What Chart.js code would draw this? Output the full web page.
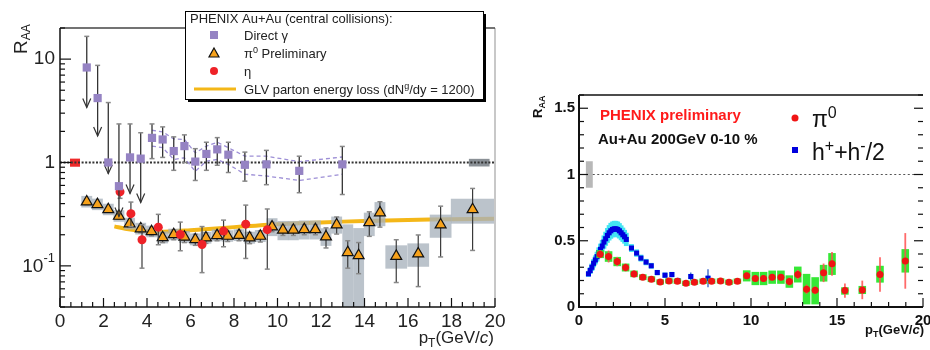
<!DOCTYPE html>
<html>
<head>
<meta charset="utf-8">
<script src="https://cdn.jsdelivr.net/npm/chart.js@4.4.1/dist/chart.umd.min.js"></script>
<style>
body { margin: 0; background: #fff; width: 930px; height: 350px; overflow: hidden; position: relative; }
#left { position: absolute; left: 0; top: 0; }
#right { position: absolute; left: 520px; top: 0; }
</style>
</head>
<body>
<canvas id="left" width="520" height="350"></canvas>
<canvas id="right" width="410" height="350"></canvas>
<script>
// ---- left panel: direct photons (upper limits marked with arrows)
const gammaPt    = [1.23, 1.73, 2.22, 2.71, 3.22, 3.71, 4.23, 4.72, 5.23, 5.72, 6.22, 6.73, 7.23, 7.74, 8.5, 9.49, 11.0, 12.98];
const gammaR     = [8.3, 4.2, 1.0, 0.59, 1.12, 1.09, 1.73, 1.67, 1.29, 1.44, 1.02, 1.21, 1.34, 1.19, 0.95, 0.96, 0.83, 0.96];
const gammaHi    = [16.6, 8.7, 3.8, 2.36, 2.36, 1.94, 2.36, 2.21, 1.77, 1.85, 1.36, 1.57, 1.74, 1.57, 1.26, 1.31, 1.15, 1.43];
const gammaLo    = [3.4, 1.8, 0.78, 0.3, 0.5, 0.41, 1.09, 1.12, 0.84, 1.0, 0.67, 0.84, 0.94, 0.80, 0.66, 0.61, 0.51, 0.49];
const gammaLimit = [1, 1, 1, 1, 1, 1, 0, 0, 0, 0, 0, 0, 0, 0, 0, 0, 0, 0];
// systematic band of the photons (dashed)
const bandPt = [4.23, 4.72, 5.23, 5.72, 6.22, 6.73, 7.23, 7.74, 8.5, 9.49, 11.0, 12.98];
const bandHi = [2.05, 1.98, 1.69, 1.67, 1.24, 1.44, 1.57, 1.39, 1.15, 1.15, 1.02, 1.13];
const bandLo = [1.44, 1.39, 1.07, 1.11, 0.82, 1.03, 1.07, 0.96, 0.77, 0.74, 0.67, 0.77];

// pi0 (shared pT bins)
const pi0Pt   = [1.23, 1.72, 2.22, 2.71, 3.2, 3.71, 4.21, 4.72, 5.23, 5.72, 6.22, 6.71, 7.22, 7.71, 8.23, 8.72, 9.21, 9.75, 10.25, 10.73, 11.23, 11.74, 12.23, 12.72, 13.23, 13.73, 14.22, 14.71, 15.46, 16.47, 17.5, 18.97];
const pi0BinW = [0.25, 0.25, 0.25, 0.25, 0.25, 0.25, 0.25, 0.25, 0.25, 0.25, 0.25, 0.25, 0.25, 0.25, 0.25, 0.25, 0.25, 0.25, 0.25, 0.25, 0.25, 0.25, 0.25, 0.25, 0.25, 0.25, 0.25, 0.25, 0.5, 0.5, 0.5, 1.0];
// left panel pi0 values
const pi0R     = [0.417, 0.393, 0.351, 0.303, 0.256, 0.229, 0.215, 0.188, 0.201, 0.19, 0.18, 0.187, 0.197, 0.194, 0.198, 0.187, 0.194, 0.239, 0.222, 0.222, 0.225, 0.225, 0.191, 0.25, 0.135, 0.126, 0.263, 0.327, 0.124, 0.131, 0.25, 0.351];
const pi0Stat  = [0.025, 0.022, 0.02, 0.02, 0.02, 0.02, 0.02, 0.02, 0.022, 0.022, 0.022, 0.022, 0.022, 0.022, 0.023, 0.023, 0.024, 0.025, 0.025, 0.025, 0.025, 0.025, 0.042, 0.047, 0.04, 0.042, 0.07, 0.09, 0.055, 0.068, 0.128, 0.21];
const pi0SysUp = [0.058, 0.054, 0.048, 0.042, 0.036, 0.032, 0.03, 0.027, 0.028, 0.027, 0.026, 0.027, 0.028, 0.027, 0.028, 0.027, 0.028, 0.05, 0.05, 0.05, 0.05, 0.05, 0.04, 0.05, 0.117, 0.106, 0.064, 0.087, 0.034, 0.034, 0.063, 0.095];
const pi0SysDn = [0.05, 0.047, 0.042, 0.036, 0.031, 0.028, 0.026, 0.023, 0.024, 0.023, 0.022, 0.023, 0.024, 0.023, 0.024, 0.023, 0.024, 0.045, 0.045, 0.045, 0.045, 0.045, 0.035, 0.045, 0.13, 0.12, 0.069, 0.085, 0.03, 0.033, 0.063, 0.095];

// eta
const etaPt = [2.76, 3.26, 3.77, 4.52, 5.53, 6.53, 7.52, 8.54, 9.53];
const etaR  = [0.52, 0.32, 0.179, 0.237, 0.201, 0.161, 0.217, 0.253, 0.224];
const etaHi = [0.6, 0.414, 0.25, 0.315, 0.265, 0.24, 0.277, 0.387, 0.355];
const etaLo = [0.45, 0.24, 0.095, 0.16, 0.14, 0.086, 0.153, 0.118, 0.093];

// GLV parton energy loss curve
const glvPt = [2.5, 3, 3.5, 4, 4.5, 5, 6, 7, 8, 9, 10, 12, 14, 16, 18, 20];
const glvR  = [0.241, 0.229, 0.221, 0.216, 0.214, 0.215, 0.221, 0.228, 0.237, 0.245, 0.252, 0.263, 0.272, 0.278, 0.282, 0.285];

// normalisation boxes at R = 1
const auNormPt = [0.46, 0.92], auNormR = [0.91, 1.09];
const ppNormPt = [18.8, 19.75], ppNormR = [0.915, 1.085];

// ---- right panel
const hPt   = [0.55, 0.65, 0.75, 0.85, 0.95, 1.05, 1.15, 1.25, 1.35, 1.45, 1.55, 1.65, 1.75, 1.85, 1.95, 2.05, 2.15, 2.25, 2.35, 2.45, 2.55, 2.65, 2.75, 3.05, 3.35, 3.6, 3.9, 4.2, 4.55, 5.0, 5.4, 5.75, 6.5, 7.5];
const hR    = [0.25, 0.275, 0.30, 0.33, 0.355, 0.38, 0.41, 0.435, 0.46, 0.49, 0.515, 0.54, 0.56, 0.575, 0.585, 0.59, 0.59, 0.585, 0.575, 0.56, 0.545, 0.53, 0.51, 0.445, 0.407, 0.369, 0.339, 0.311, 0.26, 0.24, 0.245, 0.2, 0.23, 0.217];
const hSys  = [0.022, 0.025, 0.028, 0.031, 0.034, 0.037, 0.04, 0.043, 0.046, 0.05, 0.053, 0.056, 0.058, 0.06, 0.06, 0.06, 0.06, 0.06, 0.058, 0.056, 0.054, 0.052, 0.05, 0.03, 0.028, 0.026, 0.024, 0.022, 0.02, 0.02, 0.02, 0.018, 0.02, 0.02];
const hStat = [0.005, 0.005, 0.005, 0.005, 0.005, 0.005, 0.005, 0.005, 0.005, 0.005, 0.005, 0.005, 0.005, 0.005, 0.005, 0.005, 0.005, 0.005, 0.005, 0.005, 0.005, 0.005, 0.006, 0.007, 0.008, 0.008, 0.009, 0.01, 0.012, 0.015, 0.02, 0.02, 0.03, 0.068];

const pi0R2     = [0.399, 0.381, 0.343, 0.298, 0.25, 0.225, 0.21, 0.189, 0.197, 0.195, 0.179, 0.187, 0.195, 0.195, 0.197, 0.187, 0.195, 0.235, 0.215, 0.215, 0.225, 0.225, 0.192, 0.245, 0.134, 0.126, 0.258, 0.326, 0.124, 0.129, 0.245, 0.348];
const pi0Stat2  = [0.03, 0.045, 0.035, 0.03, 0.025, 0.02, 0.018, 0.015, 0.015, 0.015, 0.015, 0.015, 0.016, 0.016, 0.017, 0.017, 0.018, 0.025, 0.025, 0.025, 0.025, 0.025, 0.03, 0.035, 0.035, 0.03, 0.07, 0.09, 0.054, 0.07, 0.13, 0.21];
const pi0SysUp2 = [0.03, 0.04, 0.035, 0.03, 0.025, 0.022, 0.022, 0.02, 0.02, 0.02, 0.02, 0.02, 0.02, 0.02, 0.02, 0.02, 0.02, 0.042, 0.05, 0.05, 0.05, 0.05, 0.047, 0.06, 0.116, 0.099, 0.06, 0.081, 0.025, 0.03, 0.066, 0.089];
const pi0SysDn2 = [0.03, 0.04, 0.035, 0.03, 0.025, 0.022, 0.022, 0.02, 0.02, 0.02, 0.02, 0.02, 0.02, 0.02, 0.02, 0.02, 0.02, 0.042, 0.05, 0.05, 0.05, 0.05, 0.047, 0.06, 0.114, 0.106, 0.066, 0.084, 0.031, 0.031, 0.061, 0.088];
const rightNormPt = [0.4, 0.8], rightNormR = [0.9, 1.1];

const FONT = "'Liberation Sans', Arial, Helvetica, sans-serif";
const pts = (xs, ys) => xs.map((x, i) => ({ x: x, y: ys[i] }));

function vline(ctx, x, y1, y2) {
    ctx.beginPath(); ctx.moveTo(x, y1); ctx.lineTo(x, y2); ctx.stroke();
}
function hline(ctx, x1, x2, y) {
    ctx.beginPath(); ctx.moveTo(x1, y); ctx.lineTo(x2, y); ctx.stroke();
}
function clipArea(chart) {
    const a = chart.chartArea;
    chart.ctx.save();
    chart.ctx.beginPath();
    chart.ctx.rect(a.left, a.top, a.right - a.left, a.bottom - a.top);
    chart.ctx.clip();
}
// draws a list of text pieces [text, font, dy] one after another, returns width
function rich(ctx, parts, x, y, align) {
    let w = 0;
    parts.forEach(p => { ctx.font = p[1]; w += ctx.measureText(p[0]).width; });
    let cx = align === 'right' ? x - w : x;
    ctx.textAlign = 'left';
    parts.forEach(p => {
        ctx.font = p[1];
        ctx.fillText(p[0], cx, y + (p[2] || 0));
        cx += ctx.measureText(p[0]).width;
    });
    return w;
}

// ---------------- left chart ----------------
const leftPlugin = {
    id: 'leftDecor',
    beforeDatasetsDraw(chart) {
        const ctx = chart.ctx, xs = chart.scales.x, ys = chart.scales.y;
        clipArea(chart);
        ctx.fillStyle = '#ee2a2a';
        ctx.fillRect(xs.getPixelForValue(auNormPt[0]), ys.getPixelForValue(auNormR[1]),
            xs.getPixelForValue(auNormPt[1]) - xs.getPixelForValue(auNormPt[0]),
            ys.getPixelForValue(auNormR[0]) - ys.getPixelForValue(auNormR[1]));
        ctx.fillStyle = '#8a9096';
        ctx.fillRect(xs.getPixelForValue(ppNormPt[0]), ys.getPixelForValue(ppNormR[1]),
            xs.getPixelForValue(ppNormPt[1]) - xs.getPixelForValue(ppNormPt[0]),
            ys.getPixelForValue(ppNormR[0]) - ys.getPixelForValue(ppNormR[1]));
        ctx.restore();
    },
    beforeDatasetDraw(chart, args) {
        const ds = chart.data.datasets[args.index];
        const ctx = chart.ctx, xs = chart.scales.x, ys = chart.scales.y;
        clipArea(chart);
        if (ds.label === 'pi0') {
            ctx.fillStyle = 'rgba(168,178,188,0.78)';
            pi0Pt.forEach((p, i) => {
                const x1 = xs.getPixelForValue(p - pi0BinW[i]), x2 = xs.getPixelForValue(p + pi0BinW[i]);
                const y1 = ys.getPixelForValue(pi0R[i] + pi0SysUp[i]);
                const y2 = ys.getPixelForValue(Math.max(pi0R[i] - pi0SysDn[i], 0.001));
                ctx.fillRect(x1, y1, x2 - x1, y2 - y1);
            });
            pi0Pt.forEach((p, i) => {
                const x = xs.getPixelForValue(p);
                const y1 = ys.getPixelForValue(pi0R[i] + pi0Stat[i]), y2 = ys.getPixelForValue(pi0R[i] - pi0Stat[i]);
                ctx.strokeStyle = '#3a3a3a'; ctx.lineWidth = 1.2;
                vline(ctx, x, y1, y2);
                ctx.strokeStyle = '#888'; ctx.lineWidth = 1.5;
                hline(ctx, x - 2.5, x + 2.5, y1); hline(ctx, x - 2.5, x + 2.5, y2);
            });
        }
        if (ds.label === 'eta') {
            etaPt.forEach((p, i) => {
                const x = xs.getPixelForValue(p);
                const y1 = ys.getPixelForValue(etaHi[i]), y2 = ys.getPixelForValue(etaLo[i]);
                ctx.strokeStyle = '#3a3a3a'; ctx.lineWidth = 1.2;
                vline(ctx, x, y1, y2);
                ctx.strokeStyle = '#888'; ctx.lineWidth = 1.5;
                hline(ctx, x - 2.5, x + 2.5, y1); hline(ctx, x - 2.5, x + 2.5, y2);
            });
        }
        if (ds.label === 'gamma') {
            gammaPt.forEach((p, i) => {
                const x = xs.getPixelForValue(p);
                const y1 = ys.getPixelForValue(gammaHi[i]), y2 = ys.getPixelForValue(gammaLo[i]);
                ctx.strokeStyle = '#333'; ctx.lineWidth = 1.3;
                vline(ctx, x, y1, y2);
                ctx.strokeStyle = '#888'; ctx.lineWidth = 1.5;
                hline(ctx, x - 2.5, x + 2.5, y1);
                if (gammaLimit[i]) {
                    ctx.strokeStyle = '#333'; ctx.lineWidth = 1.2;
                    ctx.beginPath();
                    ctx.moveTo(x - 4, y2 - 9); ctx.lineTo(x, y2); ctx.lineTo(x + 4, y2 - 9);
                    ctx.stroke();
                } else {
                    hline(ctx, x - 2.5, x + 2.5, y2);
                }
            });
        }
        ctx.restore();
    },
    afterDraw(chart) {
        const ctx = chart.ctx, xs = chart.scales.x, ys = chart.scales.y, a = chart.chartArea;
        ctx.save();
        // frame
        ctx.lineCap = 'butt';
        ctx.strokeStyle = '#c8c8c8'; ctx.lineWidth = 2;
        vline(ctx, a.right, a.top, a.bottom);
        ctx.strokeStyle = '#444'; ctx.lineWidth = 1.5;
        hline(ctx, a.left, a.right, a.top);
        ctx.strokeStyle = '#111'; ctx.lineWidth = 1.5;
        vline(ctx, a.left, a.top, a.bottom);
        hline(ctx, a.left, a.right, a.bottom);
        // x ticks every 0.5, long at every 2
        ctx.lineWidth = 1.2;
        for (let v = 0; v <= 20.001; v += 0.5) {
            const x = xs.getPixelForValue(v);
            const len = Math.abs(v % 2) < 0.01 ? 9 : 5;
            vline(ctx, x, a.bottom, a.bottom - len);
        }
        // y log ticks
        [0.01, 0.1, 1, 10].forEach(d => {
            for (let m = 1; m <= 9; m++) {
                const v = m * d;
                if (v < 0.04 - 1e-9 || v > 20 + 1e-9) continue;
                const y = ys.getPixelForValue(v);
                hline(ctx, a.left, a.left + (m === 1 ? 11 : 5), y);
            }
        });
        // 10^-1 label
        ctx.fillStyle = '#222';
        ctx.textBaseline = 'middle';
        const y01 = ys.getPixelForValue(0.1);
        rich(ctx, [['10', '19px ' + FONT, 0], ['-1', '13px ' + FONT, -8]], 55, y01 + 1, 'right');
        // axis titles
        ctx.textBaseline = 'alphabetic';
        rich(ctx, [['p', '17px ' + FONT, 0], ['T', '12px ' + FONT, 4], ['(GeV/', '17px ' + FONT, 0],
                   ['c', 'italic 17px ' + FONT, 0], [')', '17px ' + FONT, 0]], 494, 343, 'right');
        ctx.save();
        ctx.translate(27, 54);
        ctx.rotate(-Math.PI / 2);
        rich(ctx, [['R', '19px ' + FONT, 0], ['AA', '12px ' + FONT, 3]], 0, 0, 'left');
        ctx.restore();
        // legend box
        const L = 185, T = 11, R = 483, B = 99;
        ctx.fillStyle = '#000';
        ctx.fillRect(L + 3, T + 3, R - L, B - T);
        ctx.fillStyle = '#fff';
        ctx.fillRect(L, T, R - L, B - T);
        ctx.strokeStyle = '#000'; ctx.lineWidth = 1;
        ctx.strokeRect(L + 0.5, T + 0.5, R - L, B - T);
        ctx.fillStyle = '#222';
        ctx.font = '13px ' + FONT;
        ctx.fillText('PHENIX Au+Au (central collisions):', 190, 23);
        // markers
        ctx.fillStyle = '#9583c3';
        ctx.fillRect(210, 31, 8, 8);
        ctx.beginPath();
        ctx.moveTo(214, 48); ctx.lineTo(219, 57); ctx.lineTo(209, 57); ctx.closePath();
        ctx.fillStyle = '#f7a21b'; ctx.fill();
        ctx.strokeStyle = '#111'; ctx.lineWidth = 1.2; ctx.stroke();
        ctx.beginPath(); ctx.arc(214, 71, 4, 0, Math.PI * 2);
        ctx.fillStyle = '#ee2228'; ctx.fill();
        ctx.strokeStyle = '#f4b718'; ctx.lineWidth = 3;
        hline(ctx, 194, 236, 89);
        ctx.fillStyle = '#222';
        ctx.font = '13px ' + FONT;
        rich(ctx, [['Direct \u03b3', '13px ' + FONT, 0]], 244, 40, 'left');
        rich(ctx, [['\u03c0', '13px ' + FONT, 0], ['0', '9px ' + FONT, -5], [' Preliminary', '13px ' + FONT, 0]], 244, 58, 'left');
        rich(ctx, [['\u03b7', '13px ' + FONT, 0]], 244, 76, 'left');
        rich(ctx, [['GLV parton energy loss (dN', '13px ' + FONT, 0], ['g', '9px ' + FONT, -5],
                   ['/dy = 1200)', '13px ' + FONT, 0]], 244, 94, 'left');
        ctx.restore();
    }
};

new Chart(document.getElementById('left'), {
    type: 'scatter',
    data: {
        datasets: [
            { label: 'unity', type: 'line', data: [{ x: 0, y: 1 }, { x: 20, y: 1 }], borderColor: '#333', borderWidth: 2, borderDash: [2, 1.6], pointRadius: 0, order: 9 },
            { label: 'GLV', type: 'line', data: pts(glvPt, glvR), borderColor: '#f4b718', borderWidth: 4, pointRadius: 0, tension: 0.4, order: 8 },
            { label: 'bandHi', type: 'line', data: pts(bandPt, bandHi), borderColor: '#9d8fd6', borderWidth: 1.3, borderDash: [4, 3], pointRadius: 0, order: 7 },
            { label: 'bandLo', type: 'line', data: pts(bandPt, bandLo), borderColor: '#9d8fd6', borderWidth: 1.3, borderDash: [4, 3], pointRadius: 0, order: 7 },
            { label: 'pi0', data: pts(pi0Pt, pi0R), pointStyle: 'triangle', pointRadius: 6.3, backgroundColor: '#f7a21b', borderColor: '#111', borderWidth: 1.2, order: 3 },
            { label: 'eta', data: pts(etaPt, etaR), pointStyle: 'circle', pointRadius: 4.5, backgroundColor: '#ee2228', borderWidth: 0, order: 2 },
            { label: 'gamma', data: pts(gammaPt, gammaR), pointStyle: 'rect', pointRadius: 5.8, backgroundColor: '#9583c3', borderWidth: 0, order: 1 }
        ]
    },
    options: {
        responsive: false,
        animation: false,
        devicePixelRatio: 1,
        layout: { padding: { left: 0, top: 28, right: 25, bottom: 0 } },
        plugins: { legend: { display: false }, tooltip: { enabled: false } },
        scales: {
            x: {
                type: 'linear', min: 0, max: 20,
                grid: { display: false, drawTicks: false }, border: { display: false },
                ticks: { stepSize: 2, padding: 3, color: '#222', maxRotation: 0, autoSkip: false, font: { family: FONT, size: 19 } },
                afterFit(s) { s.height = 43; s.paddingLeft = 0; s.paddingRight = 0; }
            },
            y: {
                type: 'logarithmic', min: 0.04, max: 20,
                grid: { display: false, drawTicks: false }, border: { display: false },
                ticks: {
                    padding: 5, color: '#222', autoSkip: false, font: { family: FONT, size: 19 },
                    callback: v => (v === 10 ? '10' : v === 1 ? '1' : '')
                },
                afterBuildTicks(s) { s.ticks = [{ value: 0.1 }, { value: 1 }, { value: 10 }]; },
                afterFit(s) { s.width = 60; s.paddingTop = 0; s.paddingBottom = 0; }
            }
        }
    },
    plugins: [leftPlugin]
});

// ---------------- right chart ----------------
const rightPlugin = {
    id: 'rightDecor',
    beforeDatasetsDraw(chart) {
        const ctx = chart.ctx, xs = chart.scales.x, ys = chart.scales.y;
        ctx.save();
        ctx.fillStyle = '#b8b8b8';
        ctx.fillRect(xs.getPixelForValue(rightNormPt[0]), ys.getPixelForValue(rightNormR[1]),
            xs.getPixelForValue(rightNormPt[1]) - xs.getPixelForValue(rightNormPt[0]),
            ys.getPixelForValue(rightNormR[0]) - ys.getPixelForValue(rightNormR[1]));
        ctx.restore();
    },
    beforeDatasetDraw(chart, args) {
        const ds = chart.data.datasets[args.index];
        const ctx = chart.ctx, xs = chart.scales.x, ys = chart.scales.y;
        clipArea(chart);
        if (ds.label === 'h') {
            ctx.fillStyle = '#44e4f2';
            hPt.forEach((p, i) => {
                const x1 = xs.getPixelForValue(p - 0.14), x2 = xs.getPixelForValue(p + 0.14);
                const y1 = ys.getPixelForValue(hR[i] + hSys[i]), y2 = ys.getPixelForValue(hR[i] - hSys[i]);
                ctx.fillRect(x1, y1, x2 - x1, y2 - y1);
            });
            ctx.strokeStyle = '#2050c0'; ctx.lineWidth = 1.2;
            hPt.forEach((p, i) => {
                const x = xs.getPixelForValue(p);
                vline(ctx, x, ys.getPixelForValue(hR[i] + hStat[i]), ys.getPixelForValue(hR[i] - hStat[i]));
            });
        }
        if (ds.label === 'pi0') {
            ctx.fillStyle = '#35e835';
            pi0Pt.forEach((p, i) => {
                const x1 = xs.getPixelForValue(p - 0.22), x2 = xs.getPixelForValue(p + 0.22);
                const y1 = ys.getPixelForValue(pi0R2[i] + pi0SysUp2[i]), y2 = ys.getPixelForValue(pi0R2[i] - pi0SysDn2[i]);
                ctx.fillRect(x1, y1, x2 - x1, y2 - y1);
            });
            ctx.strokeStyle = 'rgba(255,80,80,0.85)'; ctx.lineWidth = 1.8;
            pi0Pt.forEach((p, i) => {
                const x = xs.getPixelForValue(p);
                vline(ctx, x, ys.getPixelForValue(pi0R2[i] + pi0Stat2[i]), ys.getPixelForValue(pi0R2[i] - pi0Stat2[i]));
            });
        }
        ctx.restore();
    },
    afterDraw(chart) {
        const ctx = chart.ctx, xs = chart.scales.x, ys = chart.scales.y, a = chart.chartArea;
        ctx.save();
        ctx.strokeStyle = '#111';
        ctx.lineWidth = 2;
        vline(ctx, a.left, a.top, a.bottom);
        hline(ctx, a.left - 1, a.right, a.bottom);
        ctx.lineWidth = 1.5;
        hline(ctx, a.left, a.right, a.top);
        ctx.lineWidth = 1.2;
        for (let v = 0; v <= 20; v++) {
            const x = xs.getPixelForValue(v);
            vline(ctx, x, a.bottom, a.bottom - (v % 5 === 0 ? 9 : 5));
        }
        for (let k = 0; k <= 16; k++) {
            const y = ys.getPixelForValue(k / 10);
            const len = k % 5 === 0 ? 9 : 5;
            hline(ctx, a.left, a.left + len, y);
            hline(ctx, a.right, a.right - len, y);
        }
        // titles
        ctx.fillStyle = '#111';
        ctx.textBaseline = 'alphabetic';
        rich(ctx, [['p', 'bold 13px ' + FONT, 0], ['T', 'bold 9px ' + FONT, 3], ['(GeV/', 'bold 13px ' + FONT, 0],
                   ['c', 'bold italic 13px ' + FONT, 0], [')', 'bold 13px ' + FONT, 0]], 404, 334, 'right');
        ctx.save();
        ctx.translate(22, 118);
        ctx.rotate(-Math.PI / 2);
        rich(ctx, [['R', 'bold 13px ' + FONT, 0], ['AA', 'bold 9px ' + FONT, 3]], 0, 0, 'left');
        ctx.restore();
        // texts
        ctx.fillStyle = '#ff1a1a';
        ctx.font = 'bold 15px ' + FONT;
        ctx.fillText('PHENIX preliminary', 80, 120);
        ctx.fillStyle = '#111';
        ctx.font = 'bold 15px ' + FONT;
        ctx.fillText('Au+Au 200GeV 0-10 %', 78, 144);
        // legend
        ctx.beginPath(); ctx.arc(275, 118, 3.5, 0, Math.PI * 2);
        ctx.fillStyle = '#f01414'; ctx.fill();
        ctx.fillStyle = '#0000dd';
        ctx.fillRect(272, 147, 6, 6);
        ctx.fillStyle = '#111';
        rich(ctx, [['\u03c0', '23px ' + FONT, 0], ['0', '16px ' + FONT, -9]], 292, 127, 'left');
        rich(ctx, [['h', '23px ' + FONT, 0], ['+', '16px ' + FONT, -9], ['+h', '23px ' + FONT, 0],
                   ['-', '16px ' + FONT, -9], ['/2', '23px ' + FONT, 0]], 292, 160, 'left');
        ctx.restore();
    }
};

new Chart(document.getElementById('right'), {
    type: 'scatter',
    data: {
        datasets: [
            { label: 'unity', type: 'line', data: [{ x: 0.8, y: 1 }, { x: 20, y: 1 }], borderColor: '#555', borderWidth: 1.2, borderDash: [2, 2.5], pointRadius: 0, order: 9 },
            { label: 'h', data: pts(hPt, hR), pointStyle: 'rect', pointRadius: 3.6, backgroundColor: '#0000dd', borderWidth: 0, order: 3 },
            { label: 'pi0', data: pts(pi0Pt, pi0R2), pointStyle: 'circle', pointRadius: 3.5, backgroundColor: '#f01414', borderWidth: 0, order: 2 }
        ]
    },
    options: {
        responsive: false,
        animation: false,
        devicePixelRatio: 1,
        layout: { padding: { left: 0, top: 95, right: 7, bottom: 0 } },
        plugins: { legend: { display: false }, tooltip: { enabled: false } },
        scales: {
            x: {
                type: 'linear', min: 0, max: 20,
                grid: { display: false, drawTicks: false }, border: { display: false },
                ticks: { stepSize: 5, padding: 5, color: '#111', maxRotation: 0, autoSkip: false, font: { family: FONT, size: 15, weight: 'bold' } },
                afterFit(s) { s.height = 43; s.paddingLeft = 0; s.paddingRight = 0; }
            },
            y: {
                type: 'linear', min: 0, max: 1.6,
                grid: { display: false, drawTicks: false }, border: { display: false },
                ticks: {
                    padding: 4, color: '#111', autoSkip: false, font: { family: FONT, size: 15, weight: 'bold' },
                    callback: v => (Math.abs(v) < 1e-6 ? '0' : Math.abs(v - 0.5) < 1e-6 ? '0.5' : Math.abs(v - 1) < 1e-6 ? '1' : Math.abs(v - 1.5) < 1e-6 ? '1.5' : '')
                },
                afterBuildTicks(s) { s.ticks = [{ value: 0 }, { value: 0.5 }, { value: 1 }, { value: 1.5 }]; },
                afterFit(s) { s.width = 59; s.paddingTop = 0; s.paddingBottom = 0; }
            }
        }
    },
    plugins: [rightPlugin]
});
</script>
</body>
</html>
